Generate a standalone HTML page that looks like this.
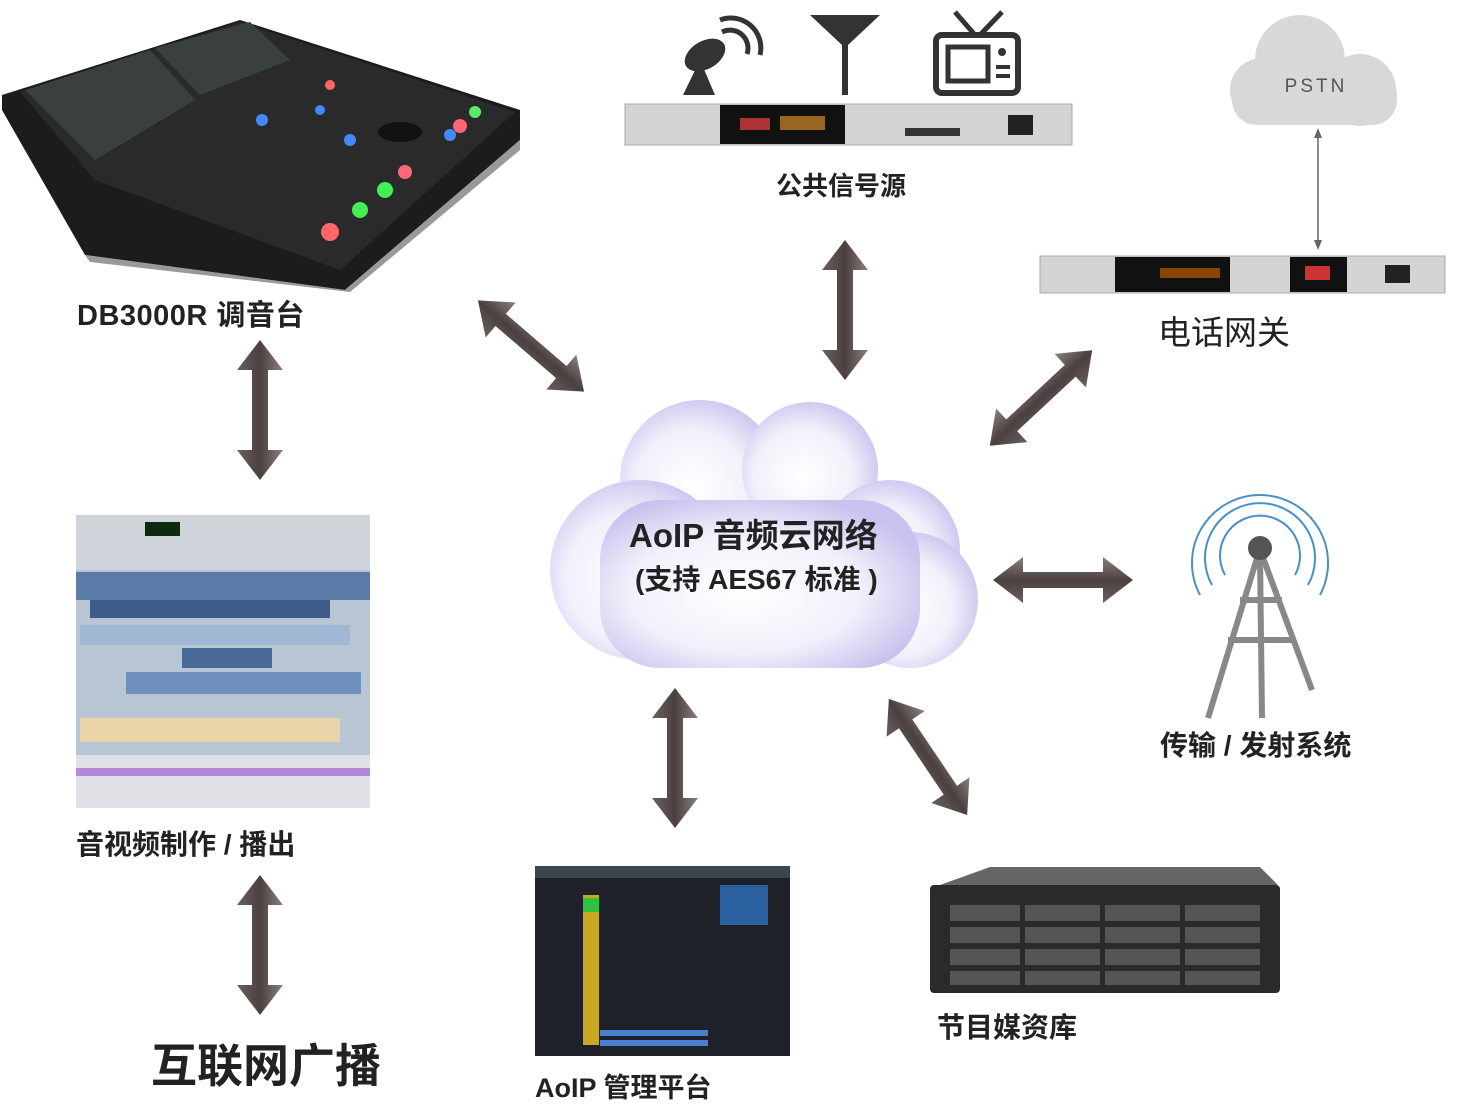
<!DOCTYPE html>
<html><head><meta charset="utf-8">
<style>
html,body{margin:0;padding:0;background:#fff;}
body{width:1472px;height:1097px;position:relative;overflow:hidden;font-family:"Liberation Sans","Noto Sans CJK SC",sans-serif;}
.t{position:absolute;color:#222;font-weight:bold;white-space:nowrap;}
</style></head><body>
<svg width="1472" height="1097" style="position:absolute;left:0;top:0">
<defs>
<linearGradient id="ag" x1="0" y1="0" x2="0" y2="1">
<stop offset="0" stop-color="#8a8080"/><stop offset="0.5" stop-color="#4a4040"/><stop offset="1" stop-color="#6a6060"/></linearGradient>
<radialGradient id="cg" cx="0.45" cy="0.55" r="0.6">
<stop offset="0" stop-color="#ffffff"/><stop offset="0.6" stop-color="#f2f0fb"/><stop offset="1" stop-color="#c8c2ee"/></radialGradient>
<g id="arr"><polygon points="-70,0 -40,-23 -40,-8 40,-8 40,-23 70,0 40,23 40,8 -40,8 -40,23" fill="url(#ag)"/></g>
</defs>

<use href="#arr" transform="translate(260,410) rotate(90)"/>
<use href="#arr" transform="translate(531,346) rotate(40.7)"/>
<use href="#arr" transform="translate(845,310) rotate(90)"/>
<use href="#arr" transform="translate(1041,398) rotate(-43)"/>
<use href="#arr" transform="translate(1063,580)"/>
<use href="#arr" transform="translate(928,757) rotate(56)"/>
<use href="#arr" transform="translate(675,758) rotate(90)"/>
<use href="#arr" transform="translate(260,945) rotate(90)"/>

<g fill="url(#cg)">
<circle cx="700" cy="480" r="80"/>
<circle cx="810" cy="470" r="68"/>
<circle cx="890" cy="550" r="70"/>
<circle cx="640" cy="570" r="90"/>
<circle cx="910" cy="600" r="68"/>
<rect x="600" y="500" width="320" height="168" rx="60"/>
</g>

<g fill="#d8d8d8">
<circle cx="1300" cy="60" r="45"/><circle cx="1262" cy="90" r="32"/><circle cx="1360" cy="90" r="36"/>
<rect x="1232" y="70" width="165" height="55" rx="25"/>
</g>
<line x1="1318" y1="132" x2="1318" y2="246" stroke="#666" stroke-width="1.5"/>
<polygon points="1318,128 1314,138 1322,138" fill="#666"/>
<polygon points="1318,250 1314,240 1322,240" fill="#666"/>

<polygon points="2,95 240,20 520,110 520,140 345,290 85,255 2,110" fill="#1c1c1c"/>
<polygon points="20,92 240,22 515,112 340,270 95,180" fill="#2a2a2a"/>
<polygon points="25,90 150,50 195,100 95,160" fill="#3a4040"/>
<polygon points="155,48 250,22 290,60 200,95" fill="#3a4040"/>
<polygon points="85,255 345,290 520,140 520,150 350,292 90,262" fill="#999"/>
<g>
<circle cx="330" cy="232" r="9" fill="#ff6666"/><circle cx="360" cy="210" r="8" fill="#44ee55"/><circle cx="385" cy="190" r="8" fill="#44ee55"/>
<circle cx="405" cy="172" r="7" fill="#ff6677"/><circle cx="460" cy="126" r="7" fill="#ff6677"/><circle cx="475" cy="112" r="6" fill="#55ee66"/>
<circle cx="262" cy="120" r="6" fill="#4488ff"/><circle cx="320" cy="110" r="5" fill="#4488ff"/><circle cx="350" cy="140" r="6" fill="#4488ff"/>
<circle cx="450" cy="135" r="6" fill="#4488ff"/><circle cx="330" cy="85" r="5" fill="#ff6666"/>
<ellipse cx="400" cy="132" rx="22" ry="10" fill="#111"/>
</g>

<g fill="#333">
<polygon points="683,95 700,60 715,95"/><ellipse cx="705" cy="55" rx="22" ry="14" transform="rotate(-30 705 55)"/>
<path d="M720,20 a30,30 0 0 1 40,35" stroke="#333" stroke-width="5" fill="none"/>
<path d="M722,32 a18,18 0 0 1 25,22" stroke="#333" stroke-width="5" fill="none"/>
<polygon points="810,15 880,15 848,45 848,95 842,95 842,45" />
<rect x="936" y="35" width="82" height="58" rx="6" fill="none" stroke="#333" stroke-width="6"/>
<rect x="948" y="47" width="40" height="34" fill="none" stroke="#333" stroke-width="5"/>
<line x1="955" y1="12" x2="975" y2="35" stroke="#333" stroke-width="5"/><line x1="1002" y1="12" x2="980" y2="35" stroke="#333" stroke-width="5"/>
<circle cx="1002" cy="52" r="4"/><rect x="996" y="65" width="14" height="4"/><rect x="996" y="74" width="14" height="4"/>
</g>

<rect x="625" y="104" width="447" height="41" fill="#d4d4d6" stroke="#aaa"/>
<rect x="720" y="105" width="125" height="39" fill="#111"/>
<rect x="740" y="118" width="30" height="12" fill="#a33"/><rect x="780" y="116" width="45" height="14" fill="#996622"/>
<rect x="905" y="128" width="55" height="8" fill="#333"/><rect x="1008" y="115" width="25" height="20" fill="#222"/>
<rect x="1040" y="256" width="405" height="37" fill="#d4d4d6" stroke="#aaa"/>
<rect x="1115" y="257" width="115" height="35" fill="#111"/><rect x="1290" y="257" width="57" height="35" fill="#111"/>
<rect x="1160" y="268" width="60" height="10" fill="#884400"/><rect x="1305" y="266" width="25" height="14" fill="#c33"/>
<rect x="1385" y="265" width="25" height="18" fill="#222"/>

<g stroke="#888" stroke-width="6" fill="none">
<line x1="1258" y1="555" x2="1208" y2="718"/><line x1="1262" y1="555" x2="1312" y2="690"/><line x1="1260" y1="555" x2="1262" y2="718"/>
<line x1="1240" y1="600" x2="1282" y2="600"/><line x1="1228" y1="640" x2="1295" y2="640"/>
</g>
<circle cx="1260" cy="548" r="12" fill="#555"/>
<g fill="none" stroke="#4a90c8" stroke-width="2">
<path d="M1225,575 a40,40 0 1 1 70,0"/><path d="M1212,585 a55,55 0 1 1 96,0"/><path d="M1200,595 a68,68 0 1 1 120,0"/>
</g>

<rect x="76" y="515" width="294" height="293" fill="#b8c6d4"/>
<rect x="76" y="515" width="294" height="55" fill="#cfd4da"/>
<rect x="145" y="522" width="35" height="14" fill="#0c2a10"/>
<rect x="76" y="572" width="294" height="28" fill="#5a7aa8"/>
<rect x="90" y="600" width="240" height="18" fill="#3d5c8a"/>
<rect x="80" y="625" width="270" height="20" fill="#a0b8d4"/>
<rect x="182" y="648" width="90" height="20" fill="#4a6a98"/>
<rect x="126" y="672" width="235" height="22" fill="#6f90bc"/>
<rect x="80" y="718" width="260" height="24" fill="#e8d4a8"/>
<rect x="76" y="755" width="294" height="53" fill="#dfe1e6"/>
<rect x="76" y="768" width="294" height="8" fill="#b08ad8"/>

<rect x="535" y="866" width="255" height="190" fill="#1e2228"/>
<rect x="535" y="866" width="255" height="12" fill="#3c4450"/>
<rect x="583" y="895" width="16" height="150" fill="#c8a820"/>
<rect x="583" y="898" width="16" height="14" fill="#30c040"/>
<rect x="720" y="885" width="48" height="40" fill="#2a5fa0"/>
<rect x="600" y="1030" width="108" height="6" fill="#4a7fd0"/>
<rect x="600" y="1040" width="108" height="6" fill="#4a7fd0"/>

<polygon points="940,885 990,867 1260,867 1278,885" fill="#666"/>
<rect x="930" y="885" width="350" height="108" rx="4" fill="#2a2a2a"/>
<g fill="#555">
<rect x="950" y="905" width="70" height="16"/><rect x="1025" y="905" width="75" height="16"/><rect x="1105" y="905" width="75" height="16"/><rect x="1185" y="905" width="75" height="16"/>
<rect x="950" y="927" width="70" height="16"/><rect x="1025" y="927" width="75" height="16"/><rect x="1105" y="927" width="75" height="16"/><rect x="1185" y="927" width="75" height="16"/>
<rect x="950" y="949" width="70" height="16"/><rect x="1025" y="949" width="75" height="16"/><rect x="1105" y="949" width="75" height="16"/><rect x="1185" y="949" width="75" height="16"/>
<rect x="950" y="971" width="70" height="14"/><rect x="1025" y="971" width="75" height="14"/><rect x="1105" y="971" width="75" height="14"/><rect x="1185" y="971" width="75" height="14"/>
</g>

<text x="1316" y="92" font-family="Liberation Sans" font-size="19" fill="#555" text-anchor="middle" letter-spacing="3">PSTN</text>
</svg>

<div class="t" style="left:77px;top:292px;font-size:29px;letter-spacing:0.5px;">DB3000R 调音台</div>
<div class="t" style="left:776px;top:166px;font-size:26px;">公共信号源</div>
<div class="t" style="left:1158px;top:306px;font-size:33px;font-weight:normal;">电话网关</div>
<div class="t" style="left:629px;top:509px;font-size:33px;">AoIP 音频云网络</div>
<div class="t" style="left:635px;top:558px;font-size:28px;">(支持 AES67 标准 )</div>
<div class="t" style="left:1160px;top:724px;font-size:28px;">传输 / 发射系统</div>
<div class="t" style="left:76px;top:823px;font-size:28px;">音视频制作 / 播出</div>
<div class="t" style="left:151px;top:1030px;font-size:46px;">互联网广播</div>
<div class="t" style="left:535px;top:1066px;font-size:27px;">AoIP 管理平台</div>
<div class="t" style="left:937px;top:1006px;font-size:28px;">节目媒资库</div>
</body></html>
